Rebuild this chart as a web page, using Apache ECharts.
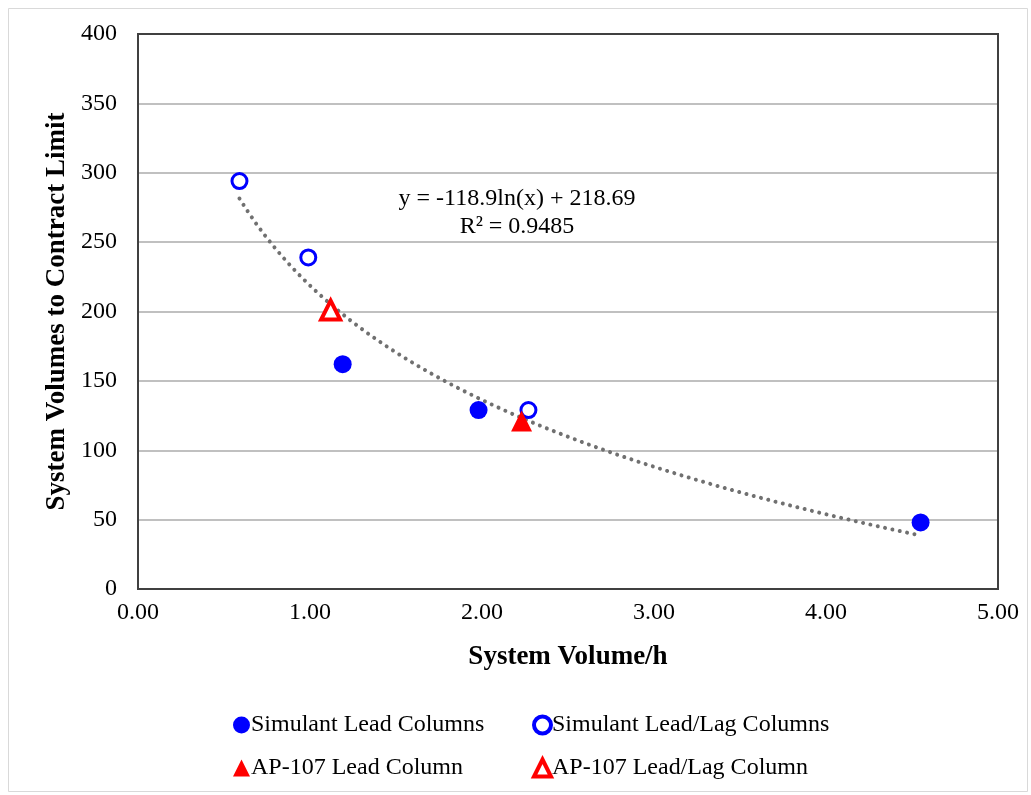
<!DOCTYPE html>
<html><head><meta charset="utf-8">
<script src="https://cdn.jsdelivr.net/npm/echarts@6/dist/echarts.min.js"></script>
<style>html,body{margin:0;padding:0;background:#fff}#c{width:1031px;height:795px}</style>
</head><body><div id="c"></div>
<script>
const xTicks = [0, 1, 2, 3, 4, 5];
const yTicks = [0, 50, 100, 150, 200, 250, 300, 350, 400];
const simLeadX = [1.19, 1.98, 4.55];
const simLeadY = [162, 129, 48];
const simLagX = [0.59, 0.99, 2.27];
const simLagY = [294, 239, 129];
const apLeadX = [2.23];
const apLeadY = [121];
const apLagX = [1.12];
const apLagY = [201];
const trendA = -118.9, trendB = 218.69;
const trendLabel = ['y = -118.9ln(x) + 218.69', 'R² = 0.9485'];
const seriesNames = ['Simulant Lead Columns', 'Simulant Lead/Lag Columns', 'AP-107 Lead Column', 'AP-107 Lead/Lag Column'];

const zip = (xs, ys) => xs.map((x, i) => [x, ys[i]]);
const allX = simLeadX.concat(simLagX, apLeadX, apLagX);
const xmin = Math.min(...allX), xmax = Math.max(...allX);
const trend = [];
for (let i = 0; i <= 80; i++) { const x = xmin + (xmax - xmin) * i / 80; trend.push([x, trendA * Math.log(x) + trendB]); }

const F = '"Liberation Serif", "Times New Roman", serif';
const chart = echarts.init(document.getElementById('c'));
const legendBase = { orient: 'horizontal', itemWidth: 17, itemHeight: 17, itemGap: 4,
  textStyle: { fontFamily: F, fontSize: 24, color: '#000', padding: [0, 0, 0, -4] } };
chart.setOption({
  animation: false,
  backgroundColor: '#fff',
  grid: { left: 138, right: 33, top: 34, bottom: 206, show: false },
  xAxis: { type: 'value', min: 0, max: 5, interval: 1,
    name: 'System Volume/h', nameLocation: 'middle', nameGap: 55,
    nameTextStyle: { fontFamily: F, fontSize: 27, fontWeight: 'bold', color: '#000' },
    axisLine: { show: false }, axisTick: { show: false }, splitLine: { show: false },
    axisLabel: { fontFamily: F, fontSize: 24, color: '#000', margin: 12, formatter: v => v.toFixed(2) } },
  yAxis: { type: 'value', min: 0, max: 400, interval: 50,
    name: 'System Volumes to Contract Limit', nameLocation: 'middle', nameGap: 64,
    nameTextStyle: { fontFamily: F, fontSize: 27, fontWeight: 'bold', color: '#000' },
    axisLine: { show: false }, axisTick: { show: false },
    splitLine: { lineStyle: { color: '#c0c0c0', width: 2 } },
    axisLabel: { fontFamily: F, fontSize: 24, color: '#000', margin: 21 } },
  legend: [
    Object.assign({ data: [{ name: seriesNames[0] }], left: 228, top: 708 }, legendBase),
    Object.assign({ data: [{ name: seriesNames[1], itemStyle: { borderWidth: 4 } }], left: 527, top: 708 }, legendBase),
    Object.assign({ data: [{ name: seriesNames[2] }], left: 228, top: 751 }, legendBase),
    Object.assign({ data: [{ name: seriesNames[3], itemStyle: { borderWidth: 4 } }], left: 527, top: 751 }, legendBase)
  ],
  graphic: [
    { type: 'rect', left: 6, top: 6, shape: { width: 1019, height: 783 }, style: { fill: 'none', stroke: '#d9d9d9', lineWidth: 1 }, silent: true, z: -1 },
    { type: 'rect', x: 138, y: 34, shape: { width: 860, height: 555 }, style: { fill: 'none', stroke: '#404040', lineWidth: 2 }, silent: true, z: 10 },
    { type: 'text', x: 517, y: 199, style: { text: trendLabel[0], font: '24px ' + F, fill: '#000', align: 'center', verticalAlign: 'middle' } },
    { type: 'text', x: 517, y: 227, style: { text: trendLabel[1], font: '24px ' + F, fill: '#000', align: 'center', verticalAlign: 'middle' } }
  ],
  series: [
    { name: 'trend', type: 'line', data: trend, showSymbol: false, symbol: 'none', smooth: false, z: 1,
      lineStyle: { color: '#707070', width: 4, type: [0.01, 7.5], cap: 'round' } },
    { name: seriesNames[0], type: 'scatter', data: zip(simLeadX, simLeadY), symbol: 'circle', symbolSize: 18,
      itemStyle: { color: '#0000ff', opacity: 1 }, z: 3 },
    { name: seriesNames[1], type: 'scatter', data: zip(simLagX, simLagY), symbol: 'circle', symbolSize: 15,
      itemStyle: { color: '#fff', borderColor: '#0000ff', borderWidth: 3, opacity: 1 }, z: 3 },
    { name: seriesNames[2], type: 'scatter', data: zip(apLeadX, apLeadY), symbol: 'triangle', symbolSize: 21,
      itemStyle: { color: '#ff0000', opacity: 1 }, z: 3 },
    { name: seriesNames[3], type: 'scatter', data: zip(apLagX, apLagY), symbol: 'triangle', symbolSize: 19,
      itemStyle: { color: '#fff', borderColor: '#ff0000', borderWidth: 4, opacity: 1 }, z: 3 }
  ]
});
</script></body></html>
